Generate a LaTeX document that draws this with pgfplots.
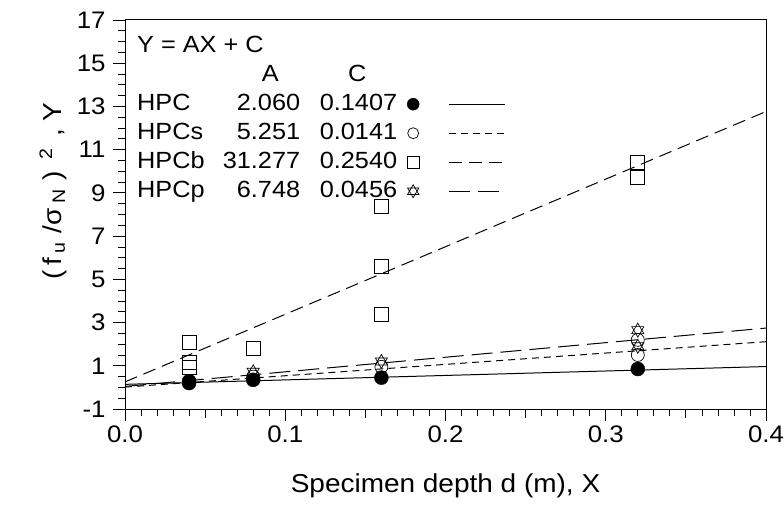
\documentclass[border=0pt]{standalone}
\usepackage{pgfplots}
\pgfplotsset{compat=1.18}
\usepackage{fontspec}
\setmainfont[FakeStretch=1.08]{Liberation Sans}
\pgfdeclareplotmark{hexagram}{%
 \pgfpathmoveto{\pgfqpointpolar{90}{\pgfplotmarksize}}%
 \pgfpathlineto{\pgfqpointpolar{210}{\pgfplotmarksize}}%
 \pgfpathlineto{\pgfqpointpolar{330}{\pgfplotmarksize}}%
 \pgfpathclose
 \pgfpathmoveto{\pgfqpointpolar{270}{\pgfplotmarksize}}%
 \pgfpathlineto{\pgfqpointpolar{30}{\pgfplotmarksize}}%
 \pgfpathlineto{\pgfqpointpolar{150}{\pgfplotmarksize}}%
 \pgfpathclose
 \pgfusepathqstroke}
\newcommand{\row}[3]{\rlap{#1}\makebox[163bp][r]{#2}\makebox[97bp][r]{#3}}
\pgfplotsset{
 limg/.style={legend image code/.code={
  \path[draw=none, fill=none] (0bp,-2bp) rectangle (1bp,2bp);
  \draw[##1, only marks] plot coordinates {(16bp,0bp)};
  \draw[black, line width=1pt, #1] (52bp,0bp) -- (108bp,0bp);}}
}
\begin{document}
\begin{tikzpicture}
\begin{axis}[
 name=ax, scale only axis, width=641bp, height=389bp,
 xmin=0, xmax=0.4, ymin=-1, ymax=17,
 xtick={0,0.1,0.2,0.3,0.4}, ytick={-1,1,3,5,7,9,11,13,15,17},
 xticklabels={0.0,0.1,0.2,0.3,0.4},
 /pgf/number format/assume math mode=true,
 minor x tick num=9, minor y tick num=3,
 extra x ticks={0.05,0.15,0.25,0.35}, extra x tick labels={},
 extra x tick style={major tick length=9bp},
 tick pos=left, tick align=outside,
 major tick length=12bp, minor tick length=6.5bp,
 axis line style={line width=1pt}, tick style={line width=0.8pt, black},
 tick label style={font=\fontsize{24}{28}\selectfont},
 xticklabel style={yshift=-1bp},
 yticklabel style={xshift=-4bp},
 label style={font=\fontsize{26}{30}\selectfont},
 xlabel={Specimen depth d (m), X},
 xlabel style={at={([yshift=-77bp]axis description cs:0.5,0)}, anchor=center},
 ylabel={(\,f\,\textsubscript{u}\,\,/σ\,\textsubscript{N}\,\,)\;\,\textsuperscript{2}\;\,,\;Y},
 ylabel style={at={([xshift=-72bp]axis description cs:0,0.56)}, anchor=center},
 legend plot pos=right,
 legend cell align=left,
 legend style={at={(axis description cs:0,1)}, anchor=north west, draw=none, fill=none,
   font=\fontsize{23.5}{27}\selectfont, xshift=12bp, yshift=-15bp, inner sep=0pt,
   row sep=7bp, column sep=0pt,
   nodes={inner sep=0pt, text height=17bp, text depth=5bp}},
]
\addlegendimage{empty legend}\addlegendentry{Y = AX + C}
\addlegendimage{empty legend}\addlegendentry{\hspace*{133bp}\makebox[0pt]{A}\hspace*{87bp}\makebox[0pt]{C}}
\addlegendimage{black, mark=*, mark size=6bp, limg={solid}}
\addlegendentry{\row{HPC}{2.060}{0.1407}}
\addlegendimage{black, mark=o, mark size=5.5bp, line width=0.7pt, limg={dash pattern=on 7bp off 5bp}}
\addlegendentry{\row{HPCs}{5.251}{0.0141}}
\addlegendimage{black, mark=square, mark size=6bp, line width=0.7pt, limg={dash pattern=on 13bp off 7bp}}
\addlegendentry{\row{HPCb}{31.277}{0.2540}}
\addlegendimage{black, mark=hexagram, mark size=6.5bp, line width=0.7pt, limg={dash pattern=on 21bp off 8bp}}
\addlegendentry{\row{HPCp}{6.748}{0.0456}}

% fitted lines
\addplot[black, line width=1pt, forget plot] coordinates {(0,0.1407) (0.4,0.9647)};
\addplot[black, line width=1pt, dash pattern=on 7bp off 5bp, forget plot] coordinates {(0,0.0141) (0.4,2.1145)};
\addplot[black, line width=1pt, dash pattern=on 13bp off 7bp, forget plot] coordinates {(0,0.254) (0.4,12.765)};
\addplot[black, line width=1pt, dash pattern=on 21bp off 8bp, forget plot] coordinates {(0,0.0456) (0.4,2.7448)};

% data points
\addplot[only marks, mark=square, mark size=7bp, black, line width=0.7pt, forget plot] coordinates {
 (0.04,2.1) (0.04,1.15) (0.04,0.95) (0.08,1.8) (0.16,8.4) (0.16,5.6) (0.16,3.4) (0.32,10.4) (0.32,9.7)};
\addplot[only marks, mark=o, mark size=6.5bp, black, line width=0.7pt, forget plot] coordinates {
 (0.04,0.3) (0.08,0.5) (0.16,0.95) (0.32,1.5) (0.32,2.2)};
\addplot[only marks, mark=hexagram, mark size=7bp, black, line width=0.7pt, forget plot] coordinates {
 (0.08,0.72) (0.16,1.2) (0.32,2.65) (0.32,1.9)};
\addplot[only marks, mark=*, mark size=7bp, black, forget plot] coordinates {
 (0.04,0.2) (0.04,0.28) (0.08,0.35) (0.16,0.45) (0.32,0.85)};
\end{axis}
\pgfresetboundingbox
\path (ax.south west) ++(-125bp,-97bp) rectangle ++(784bp,506bp);
\end{tikzpicture}
\end{document}
